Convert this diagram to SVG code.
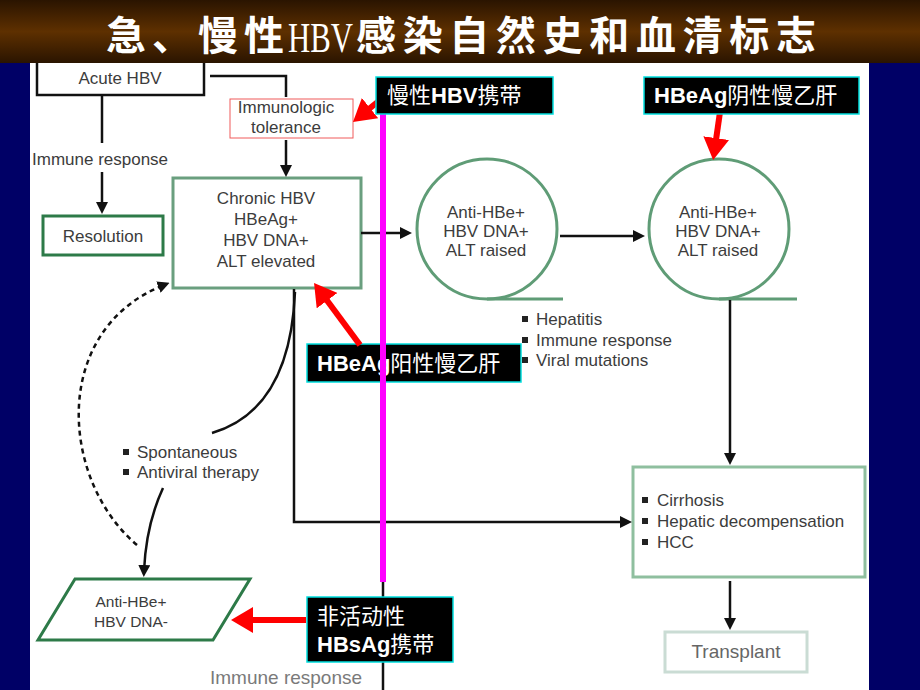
<svg xmlns="http://www.w3.org/2000/svg" width="920" height="690" viewBox="0 0 920 690">
<defs>
<linearGradient id="tg" x1="0" y1="0" x2="0" y2="1">
<stop offset="0" stop-color="#2a1400"/>
<stop offset="0.5" stop-color="#5e3000"/>
<stop offset="1" stop-color="#2a1400"/>
</linearGradient>
<marker id="ah" viewBox="0 0 12 12" refX="6" refY="6" markerWidth="12" markerHeight="12" markerUnits="userSpaceOnUse" orient="auto"><path d="M0,0 L12,6 L0,12 z" fill="#111"/></marker>
<marker id="rh" viewBox="0 0 22 26" refX="11" refY="13" markerWidth="22" markerHeight="26" markerUnits="userSpaceOnUse" orient="auto"><path d="M0,0 L22,13 L0,26 z" fill="#ff0000"/></marker>
<style>
.t{font-family:"Liberation Sans",Arial,sans-serif;font-size:17px;fill:#3c3c3c}
.c{text-anchor:middle}
.ln{fill:none;stroke:#111;stroke-width:2.5}
.red{fill:none;stroke:#ff0000;stroke-width:6}
.lab{fill:#000;stroke:#00dede;stroke-width:1.5}
.lt{font-family:"Liberation Sans","Noto Sans CJK SC",sans-serif;font-size:22px;fill:#fff}
.b{font-weight:bold}
.g1{fill:#fff;stroke:#2d7a48;stroke-width:3}
.g2{fill:#fff;stroke:#6a9f7f;stroke-width:3}
.g3{fill:#fff;stroke:#5f9c76;stroke-width:3}
.tt{font-family:"Noto Sans CJK SC",sans-serif;font-size:40px;font-weight:bold;fill:#fff}
</style>
</defs>
<rect x="0" y="0" width="920" height="690" fill="#000066"/>
<rect x="30" y="60" width="839" height="630" fill="#fff"/>

<g id="acute"><rect x="37" y="40" width="167" height="55" fill="#fff" stroke="#111" stroke-width="2.5"/><text class="t c" x="120" y="84">Acute HBV</text></g>
<g id="immuno"><rect x="230" y="99" width="123" height="39" fill="none" stroke="#f05a5a" stroke-width="1"/><text class="t c" x="286" y="113">Immunologic</text><text class="t c" x="286" y="133">tolerance</text></g>
<g id="immune-label"><text class="t" x="32" y="165">Immune response</text></g>
<g id="resolution"><rect class="g1" x="43" y="216" width="120" height="39"/><text class="t c" x="103" y="242">Resolution</text></g>
<g id="chronic"><rect class="g2" x="173" y="178" width="188" height="110"/><text class="t c" x="266" y="204">Chronic HBV</text><text class="t c" x="266" y="225">HBeAg+</text><text class="t c" x="266" y="246">HBV DNA+</text><text class="t c" x="266" y="267">ALT elevated</text></g>
<g id="circle1"><circle class="g3" cx="487" cy="229" r="70"/><line x1="487" y1="299" x2="563" y2="299" stroke="#5f9c76" stroke-width="3"/><text class="t c" x="486" y="218">Anti-HBe+</text><text class="t c" x="486" y="237">HBV DNA+</text><text class="t c" x="486" y="256">ALT raised</text></g>
<g id="circle2"><circle class="g3" cx="719" cy="229" r="70"/><line x1="719" y1="299" x2="797" y2="299" stroke="#5f9c76" stroke-width="3"/><text class="t c" x="718" y="218">Anti-HBe+</text><text class="t c" x="718" y="237">HBV DNA+</text><text class="t c" x="718" y="256">ALT raised</text></g>
<g id="hepatitis"><rect x="522" y="316" width="6" height="6" fill="#222"/><rect x="522" y="337" width="6" height="6" fill="#222"/><rect x="522" y="357" width="6" height="6" fill="#222"/><text class="t" x="536" y="325">Hepatitis</text><text class="t" x="536" y="346">Immune response</text><text class="t" x="536" y="366">Viral mutations</text></g>
<g id="spont"><rect x="123" y="449" width="6" height="6" fill="#222"/><rect x="123" y="469" width="6" height="6" fill="#222"/><text class="t" x="137" y="458">Spontaneous</text><text class="t" x="137" y="478">Antiviral therapy</text></g>
<g id="cirrhosis"><rect x="633" y="467" width="232" height="110" fill="#fff" stroke="#8fbf9f" stroke-width="3"/><rect x="642" y="497" width="6" height="6" fill="#222"/><rect x="642" y="518" width="6" height="6" fill="#222"/><rect x="642" y="539" width="6" height="6" fill="#222"/><text class="t" x="657" y="506">Cirrhosis</text><text class="t" x="657" y="527">Hepatic decompensation</text><text class="t" x="657" y="548">HCC</text></g>
<g id="transplant"><rect x="665" y="632" width="142" height="40" fill="#fff" stroke="#cadcd4" stroke-width="3"/><text class="t c" x="736" y="658" style="font-size:19px;fill:#666">Transplant</text></g>
<g id="inactive"><polygon class="g1" points="75,579 250,579 213,640 38,640"/><text class="t c" x="131" y="607" style="font-size:15.5px">Anti-HBe+</text><text class="t c" x="131" y="627" style="font-size:15.5px">HBV DNA-</text></g>
<g id="immune-bottom"><text class="t" x="210" y="684" style="font-size:19px;fill:#7a7a7a">Immune response</text></g>

<g id="connectors">
<path class="ln" d="M210,76 H286 V97"/>
<path class="ln" d="M286,140 V171" marker-end="url(#ah)"/>
<path class="ln" d="M102,95 V143"/>
<path class="ln" d="M102,172 V208" marker-end="url(#ah)"/>
<path class="ln" d="M361,233 H406" marker-end="url(#ah)"/>
<path class="ln" d="M560,236 H639" marker-end="url(#ah)"/>
<path class="ln" d="M730,300 V459" marker-end="url(#ah)"/>
<path class="ln" d="M730,581 V624" marker-end="url(#ah)"/>
<path class="ln" d="M294,289 V522 H626" marker-end="url(#ah)"/>
<path class="ln" d="M295,292 Q290,410 212,433"/>
<path class="ln" d="M163,488 Q146,525 144,571" marker-end="url(#ah)"/>
<path class="ln" d="M137,545 C60,480 50,330 164,285" stroke-dasharray="5,4" stroke-width="4" marker-end="url(#ah)"/>
<path class="ln" d="M383,580 V690" stroke-width="3"/>
</g>

<g id="label-hbeag-pos"><rect class="lab" x="307" y="344" width="214" height="38"/><text class="lt" x="317" y="371"><tspan class="b">HBeAg</tspan>阳性慢乙肝</text></g>
<line x1="383" y1="80" x2="383" y2="582" stroke="#ff00ff" stroke-width="6"/>

<g id="red-arrows">
<path class="red" d="M380,100 L361.5,115" marker-end="url(#rh)"/>
<path class="red" d="M720,112 L714.7,149" marker-end="url(#rh)"/>
<path class="red" d="M360,345 L320.6,291.8" marker-end="url(#rh)"/>
<path class="red" d="M306,620 H242" marker-end="url(#rh)"/>
</g>

<g id="label-carrier"><rect class="lab" x="376" y="77" width="177" height="37"/><text class="lt" x="387" y="103">慢性<tspan class="b">HBV</tspan>携带</text></g>
<g id="label-hbeag-neg"><rect class="lab" x="644" y="77" width="215" height="37"/><text class="lt" x="654" y="103"><tspan class="b">HBeAg</tspan>阴性慢乙肝</text></g>
<g id="label-inactive"><rect class="lab" x="307" y="597" width="146" height="65"/><text class="lt" x="317" y="624">非活动性</text><text class="lt" x="317" y="652"><tspan class="b">HBsAg</tspan>携带</text></g>

<g id="title"><rect x="0" y="0" width="920" height="63" fill="url(#tg)"/>
<text class="tt" x="106" y="50" textLength="178" lengthAdjust="spacing">急、慢性</text>
<text x="0" y="50" transform="translate(288,0) scale(0.77,1.05)" style="font-family:'Liberation Serif',serif;font-size:40px;fill:#fff">HBV</text>
<text class="tt" x="356" y="50" textLength="460" lengthAdjust="spacing">感染自然史和血清标志</text>
</g>
</svg>
